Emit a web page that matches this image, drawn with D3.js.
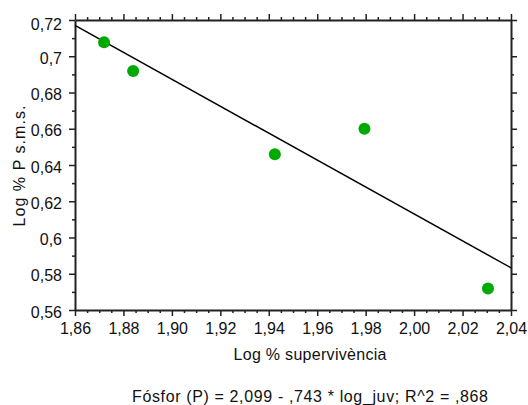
<!DOCTYPE html>
<html><head><meta charset="utf-8">
<script src="https://cdn.jsdelivr.net/npm/d3@7"></script>
<style>body{margin:0;background:#fff}svg{display:block}text{font-family:"Liberation Sans",Arial,sans-serif;fill:#111}</style>
</head><body>
<script>
const xVals = [1.872, 1.884, 1.9425, 1.9795, 2.0305];
const yVals = [0.7077, 0.6918, 0.6459, 0.6600, 0.5718];
const fitIntercept = 2.099, fitSlope = -0.743;
const xTicks = [1.86, 1.88, 1.90, 1.92, 1.94, 1.96, 1.98, 2.00, 2.02, 2.04];
const yTicks = [0.56, 0.58, 0.60, 0.62, 0.64, 0.66, 0.68, 0.70, 0.72];
const xTickLabels = ["1,86","1,88","1,90","1,92","1,94","1,96","1,98","2,00","2,02","2,04"];
const yTickLabels = ["0,56","0,58","0,6","0,62","0,64","0,66","0,68","0,7","0,72"];
const xTitle = "Log % supervivència";
const yTitle = "Log % P s.m.s.";
const caption = "Fósfor (P) = 2,099 - ,743 * log_juv; R^2 = ,868";

const W = 528, H = 405;
const L = 75, R = 511, T = 20, B = 310;
const svg = d3.select("body").append("svg").attr("width", W).attr("height", H);
const x = d3.scaleLinear().domain([1.86, 2.04]).range([L, R]);
const y = d3.scaleLinear().domain([0.56, 0.72]).range([B, T]);

const xMinor = d3.range(0, 37).map(i => 1.86 + i * 0.005).filter(v => !xTicks.some(t => Math.abs(t - v) < 1e-6));
const yMinor = d3.range(0, 17).map(i => 0.56 + i * 0.01).filter(v => !yTicks.some(t => Math.abs(t - v) < 1e-6));

function styleAxis(g) {
  g.selectAll("path.domain").attr("stroke", "#222").attr("stroke-width", 2);
  g.selectAll(".tick line").attr("stroke", "#222").attr("stroke-width", 1.5);
  g.selectAll("text").attr("font-size", 16).attr("fill", "#111")
    .style("font-family", '"Liberation Sans",Arial,sans-serif');
}

// bottom
const gb = svg.append("g").attr("transform", `translate(0,${B})`)
  .call(d3.axisBottom(x).tickValues(xTicks).tickSize(6).tickPadding(7)
    .tickFormat((d, i) => xTickLabels[i]).tickSizeOuter(0));
styleAxis(gb);
svg.append("g").attr("transform", `translate(0,${B})`)
  .call(d3.axisBottom(x).tickValues(xMinor).tickSize(3).tickFormat("").tickSizeOuter(0))
  .call(g => { g.select(".domain").remove(); styleAxis(g); });
// top
const gt = svg.append("g").attr("transform", `translate(0,${T})`)
  .call(d3.axisTop(x).tickValues(xTicks).tickSize(6).tickFormat("").tickSizeOuter(0));
styleAxis(gt);
svg.append("g").attr("transform", `translate(0,${T})`)
  .call(d3.axisTop(x).tickValues(xMinor).tickSize(3).tickFormat("").tickSizeOuter(0))
  .call(g => { g.select(".domain").remove(); styleAxis(g); });
// left
const gl = svg.append("g").attr("transform", `translate(${L},0)`)
  .call(d3.axisLeft(y).tickValues(yTicks).tickSize(6).tickPadding(7)
    .tickFormat((d, i) => yTickLabels[i]).tickSizeOuter(0));
styleAxis(gl);
gl.selectAll("text").attr("dy", "0.45em");
gl.selectAll(".tick").filter(d => Math.abs(d - 0.72) < 1e-6).select("text").attr("dy", "0.6em");
svg.append("g").attr("transform", `translate(${L},0)`)
  .call(d3.axisLeft(y).tickValues(yMinor).tickSize(3).tickFormat("").tickSizeOuter(0))
  .call(g => { g.select(".domain").remove(); styleAxis(g); });
// right
const gr = svg.append("g").attr("transform", `translate(${R},0)`)
  .call(d3.axisRight(y).tickValues(yTicks).tickSize(6).tickFormat("").tickSizeOuter(0));
styleAxis(gr);
svg.append("g").attr("transform", `translate(${R},0)`)
  .call(d3.axisRight(y).tickValues(yMinor).tickSize(3).tickFormat("").tickSizeOuter(0))
  .call(g => { g.select(".domain").remove(); styleAxis(g); });

// regression line
const fx = [1.86, 2.04];
svg.append("line")
  .attr("x1", x(fx[0])).attr("y1", y(fitIntercept + fitSlope * fx[0]))
  .attr("x2", x(fx[1])).attr("y2", y(fitIntercept + fitSlope * fx[1]))
  .attr("stroke", "#000").attr("stroke-width", 1.5);

// points
svg.selectAll("circle.pt").data(xVals.map((v, i) => [v, yVals[i]])).enter()
  .append("circle").attr("class", "pt")
  .attr("cx", d => x(d[0])).attr("cy", d => y(d[1])).attr("r", 6)
  .attr("fill", "#00aa00");

// titles
svg.append("text").attr("x", 310).attr("y", 360).attr("text-anchor", "middle")
  .attr("font-size", 16).attr("textLength", 153).attr("lengthAdjust", "spacing").text(xTitle);
svg.append("text").attr("transform", "translate(25,166) rotate(-90)").attr("text-anchor", "middle")
  .attr("font-size", 16).attr("textLength", 121).attr("lengthAdjust", "spacing").text(yTitle);
svg.append("text").attr("x", 310).attr("y", 402).attr("text-anchor", "middle")
  .attr("font-size", 16).attr("textLength", 356).attr("lengthAdjust", "spacing").text(caption);
</script>
</body></html>
